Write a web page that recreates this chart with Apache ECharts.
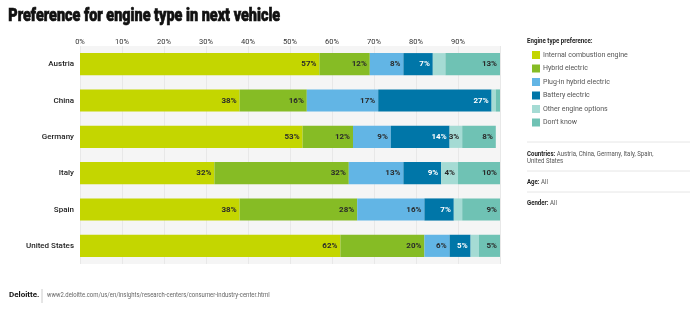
<!DOCTYPE html>
<html>
<head>
<meta charset="utf-8">
<script src="https://cdn.jsdelivr.net/npm/echarts@6/dist/echarts.min.js"></script>
<style>
  html, body { margin: 0; padding: 0; background: #fff; }
  #chart { width: 700px; height: 324px; }
</style>
</head>
<body>
<div id="chart"></div>
<script>
// Survey: preferred engine type for the next vehicle, share of respondents (%)
const countries = ['Austria', 'China', 'Germany', 'Italy', 'Spain', 'United States'];
const engineTypes = ['Internal combustion engine', 'Hybrid electric', 'Plug-in hybrid electric',
  'Battery electric', 'Other engine options', "Don't know"];
const iceValues      = [57, 38, 53, 32, 38, 62];
const hybridValues   = [12, 16, 12, 32, 28, 20];
const plugInValues   = [8, 17, 9, 13, 16, 6];
const batteryValues  = [7, 27, 14, 9, 7, 5];
const otherValues    = [3, 1, 3, 4, 2, 2];
const dontKnowValues = [13, 1, 8, 10, 9, 5];
const xTickLabels = ['0%', '10%', '20%', '30%', '40%', '50%', '60%', '70%', '80%', '90%'];

// Segments too narrow to carry a readable label
const hiddenLabels = { 4: [0, 1, 4, 5], 5: [1] };

const colors = ['#c4d600', '#86bc25', '#62b5e5', '#0076a8', '#a5dbd4', '#6fc2b4'];
const seriesValues = [iceValues, hybridValues, plugInValues, batteryValues, otherValues, dontKnowValues];

const FONT = 'Roboto, Arial, sans-serif';

const chart = echarts.init(document.getElementById('chart'), null, { renderer: 'canvas' });

const series = seriesValues.map((vals, si) => ({
  name: engineTypes[si],
  type: 'bar',
  stack: 'total',
  barWidth: '61%',
  itemStyle: { color: colors[si] },
  emphasis: { disabled: true },
  data: vals.map((v, ci) => {
    const hide = (hiddenLabels[si] || []).includes(ci);
    return hide ? { value: v, label: { show: false } } : v;
  }),
  label: {
    show: true,
    position: 'insideRight',
    distance: 3,
    formatter: '{c}%',
    fontFamily: FONT,
    fontSize: 8,
    fontWeight: 'bold',
    color: si === 3 ? '#ffffff' : '#2a2a2a'
  }
}));

// Condensed side-panel text (horizontally squeezed)
const sideText = (x, y, bold, rest) => ({
  type: 'text', left: x, top: y, scaleX: 0.81, originX: x,
  style: {
    text: '{b|' + bold + '}' + rest,
    fontFamily: FONT, fontSize: 7.5, fill: '#555', lineHeight: 7,
    rich: { b: { fontWeight: 'bold', fill: '#222', fontSize: 7.5, fontFamily: FONT } }
  }
});
const rule = (y) => ({
  type: 'line', shape: { x1: 527, y1: y, x2: 690, y2: y },
  style: { stroke: '#e6e6e6', lineWidth: 1 }
});

chart.setOption({
  animation: false,
  grid: {
    left: 80, right: 200, top: 46, height: 218,
    show: true, backgroundColor: '#f5f5f5', borderWidth: 0
  },
  xAxis: {
    type: 'value', position: 'top', min: 0, max: 100, interval: 10,
    axisLine: { show: false }, axisTick: { show: false },
    splitLine: { show: true, lineStyle: { color: '#e8e8e8', width: 1 } },
    axisLabel: {
      margin: 0, fontFamily: FONT, fontSize: 7.5, color: '#333',
      formatter: (v) => xTickLabels[v / 10] || ''
    }
  },
  yAxis: {
    type: 'category', data: countries, inverse: true,
    axisLine: { show: false }, axisTick: { show: false },
    axisLabel: {
      margin: 6, fontFamily: FONT, fontSize: 8, fontWeight: 500, color: '#222'
    }
  },
  legend: {
    orient: 'vertical', left: 527, top: 46,
    icon: 'rect', itemWidth: 8, itemHeight: 8, itemGap: 5.5,
    selectedMode: false,
    textStyle: { fontFamily: FONT, fontSize: 7, color: '#555', padding: [0, 0, 0, -2] },
    data: engineTypes
  },
  series: series,
  graphic: [
    {
      type: 'text', left: 8, top: 7, scaleX: 0.8,
      style: {
        text: 'Preference for engine type in next vehicle',
        fontFamily: FONT, fontSize: 18, fontWeight: 900, fill: '#111',
        stroke: '#111', lineWidth: 0.7
      }
    },
    {
      type: 'text', left: 527, top: 37, scaleX: 0.82,
      style: { text: 'Engine type preference:', fontFamily: FONT, fontSize: 7.5, fontWeight: 'bold', fill: '#222' }
    },
    rule(142),
    sideText(527, 150, 'Countries: ', 'Austria, China, Germany, Italy, Spain,\nUnited States'),
    rule(171),
    sideText(527, 178, 'Age: ', 'All'),
    rule(192),
    sideText(527, 199, 'Gender: ', 'All'),
    {
      type: 'text', left: 9, top: 291,
      style: { text: 'Deloitte.', fontFamily: FONT, fontSize: 8, fontWeight: 'bold', fill: '#111' }
    },
    {
      type: 'line', shape: { x1: 42, y1: 289, x2: 42, y2: 303 },
      style: { stroke: '#ccc', lineWidth: 1 }
    },
    {
      type: 'text', left: 47, top: 292, scaleX: 0.85,
      style: { text: 'www2.deloitte.com/us/en/insights/research-centers/consumer-industry-center.html', fontFamily: FONT, fontSize: 7, fill: '#666' }
    }
  ]
});
</script>
</body>
</html>
